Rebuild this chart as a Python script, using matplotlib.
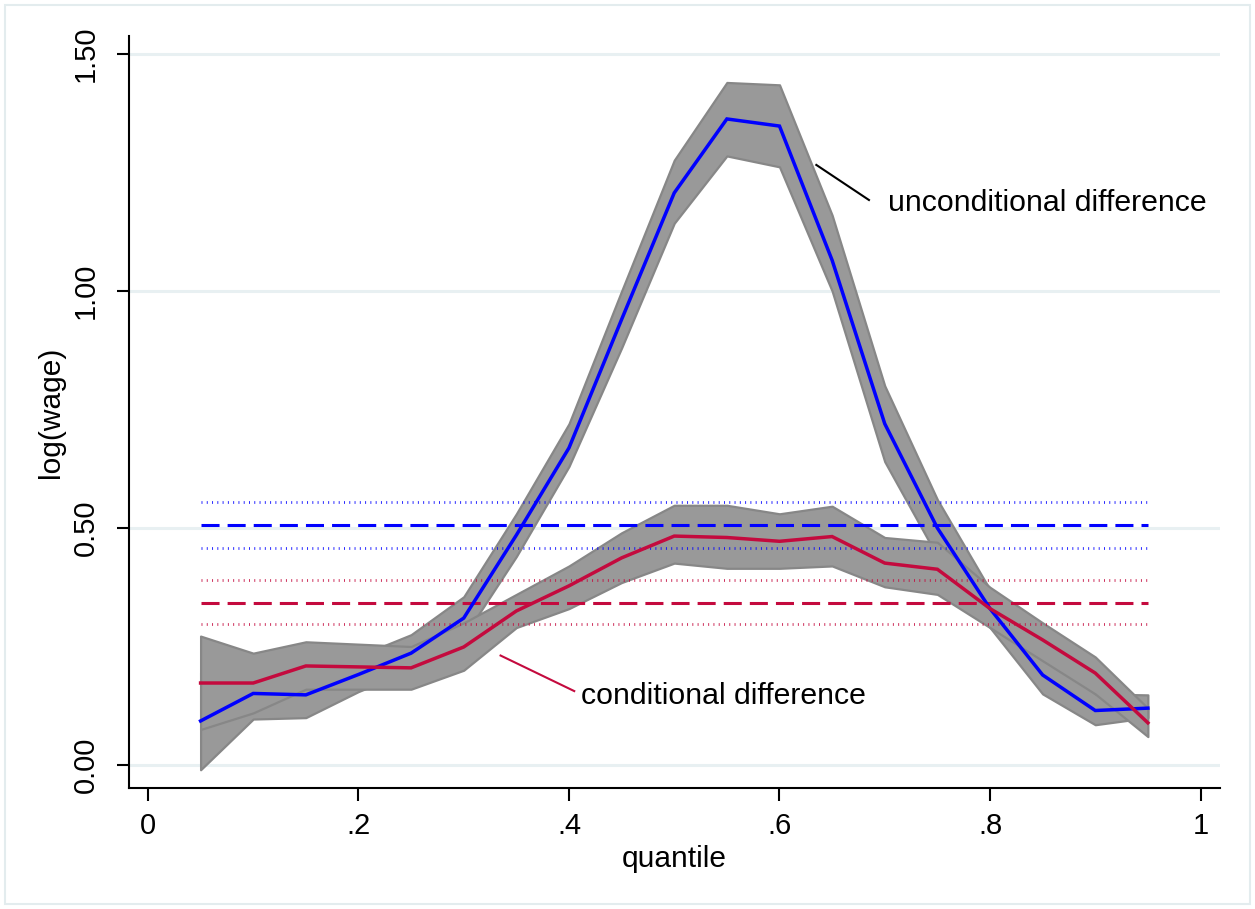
import matplotlib
matplotlib.use("Agg")
import matplotlib.pyplot as plt
import matplotlib.patches as patches
import numpy as np

plt.rcParams['font.family'] = ['Liberation Sans', 'DejaVu Sans']

# quantiles
quantiles = [0.05, 0.10, 0.15, 0.20, 0.25, 0.30, 0.35, 0.40, 0.45, 0.50,
             0.55, 0.60, 0.65, 0.70, 0.75, 0.80, 0.85, 0.90, 0.95]

# unconditional difference + band
uncond = [0.093, 0.151, 0.148, 0.191, 0.236, 0.310, 0.485, 0.669, 0.940, 1.207,
          1.363, 1.348, 1.065, 0.720, 0.500, 0.330, 0.190, 0.115, 0.120]
uncond_lo = [-0.010, 0.097, 0.100, 0.155, 0.200, 0.270, 0.440, 0.630, 0.880, 1.143,
             1.285, 1.262, 1.000, 0.640, 0.440, 0.290, 0.150, 0.085, 0.100]
uncond_hi = [0.195, 0.207, 0.194, 0.230, 0.275, 0.355, 0.530, 0.720, 1.000, 1.276,
             1.440, 1.435, 1.160, 0.800, 0.560, 0.370, 0.240, 0.150, 0.148]

# conditional difference + band
cond = [0.173, 0.173, 0.209, 0.207, 0.205, 0.249, 0.325, 0.378, 0.437, 0.483,
        0.480, 0.472, 0.482, 0.426, 0.413, 0.330, 0.264, 0.194, 0.089]
cond_lo = [0.075, 0.110, 0.160, 0.160, 0.160, 0.200, 0.290, 0.330, 0.385, 0.426,
           0.415, 0.415, 0.420, 0.376, 0.360, 0.290, 0.220, 0.150, 0.060]
cond_hi = [0.272, 0.236, 0.260, 0.255, 0.250, 0.300, 0.360, 0.420, 0.490, 0.548,
           0.548, 0.530, 0.546, 0.480, 0.470, 0.375, 0.300, 0.228, 0.120]

# OLS means with CI
uncond_mean = [0.458, 0.506, 0.555]
cond_mean = [0.297, 0.342, 0.390]

yticks = [0.0, 0.5, 1.0, 1.5]
ytick_labels = ["0.00", "0.50", "1.00", "1.50"]
xticks = [0, 0.2, 0.4, 0.6, 0.8, 1.0]
xtick_labels = ["0", ".2", ".4", ".6", ".8", "1"]

BLUE = "#0000FF"
RED = "#C40A3E"
BAND = "#999999"
BAND_EDGE = "#878787"
GRID = "#E8F0F2"

fig = plt.figure(figsize=(12.55, 9.09), dpi=100)
ax = fig.add_axes([0.1028, 0.1331, 0.8693, 0.8273])

# outer frame of graph region
fig.patches.append(patches.Rectangle((0.004, 0.005), 0.992, 0.99, transform=fig.transFigure,
                                     fill=False, edgecolor="#E3ECEE", linewidth=1.5))

for y in yticks:
    ax.axhline(y, color=GRID, linewidth=2.2, zorder=0)

q = np.array(quantiles)
ax.fill_between(q, uncond_lo, uncond_hi, facecolor=BAND, edgecolor=BAND_EDGE, linewidth=1.6, zorder=1)
ax.fill_between(q, cond_lo, cond_hi, facecolor=BAND, edgecolor=BAND_EDGE, linewidth=1.6, zorder=1)

x0, x1 = quantiles[0], quantiles[-1]
for vals, col in [(uncond_mean, BLUE), (cond_mean, RED)]:
    lw_d = 2.2
    ax.plot([x0, x1], [vals[1]] * 2, color=col, linewidth=lw_d,
            linestyle=(0, (13 / lw_d, 5.8 / lw_d)), zorder=2)
    lw_o = 2.0
    for v in (vals[0], vals[2]):
        ax.plot([x0, x1], [v] * 2, color=col, linewidth=lw_o, alpha=0.85,
                linestyle=(0, (0.7 / lw_o, 3.1 / lw_o)), zorder=2)

ax.plot(q, uncond, color=BLUE, linewidth=2.5, zorder=3, solid_joinstyle='miter')
ax.plot(q, cond, color=RED, linewidth=2.5, zorder=3, solid_joinstyle='miter')

# annotations
ax.plot([0.635, 0.685], [1.266, 1.192], color="black", linewidth=1.5, zorder=4)
ax.text(0.703, 1.169, "unconditional difference", fontsize=21.8, va="baseline", ha="left")
ax.plot([0.335, 0.405], [0.231, 0.156], color=RED, linewidth=1.5, zorder=4)
ax.text(0.411, 0.129, "conditional difference", fontsize=21.8, va="baseline", ha="left")

ax.set_xlim(-0.018, 1.0185)
ax.set_ylim(-0.0485, 1.538)

ax.set_xticks(xticks)
ax.set_xticklabels(xtick_labels)
ax.set_yticks(yticks)
ax.set_yticklabels(ytick_labels, rotation=90, va="center")
ax.tick_params(axis="both", length=9, width=1.5, labelsize=21, color="black")
ax.tick_params(axis="x", pad=8)
ax.tick_params(axis="y", pad=12)

ax.set_xlabel("quantile", fontsize=21.5, labelpad=4)
ax.set_ylabel("log(wage)", fontsize=21.5, labelpad=5)

for s in ("top", "right"):
    ax.spines[s].set_visible(False)
for s in ("left", "bottom"):
    ax.spines[s].set_linewidth(1.5)

fig.savefig("out.png", dpi=100)
